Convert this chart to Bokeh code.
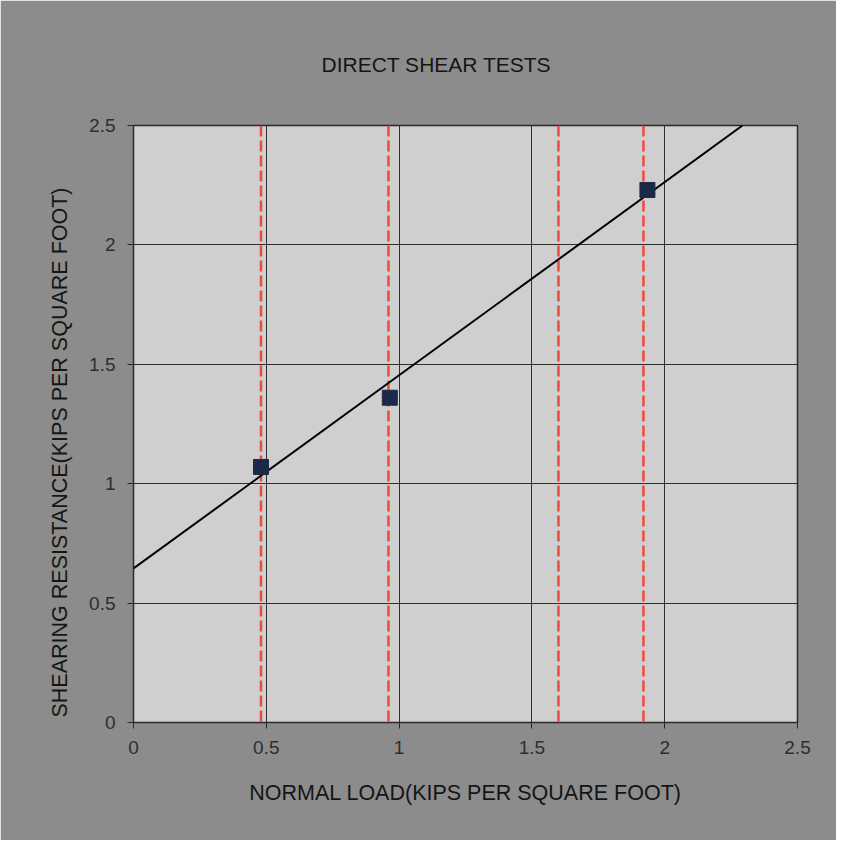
from bokeh.plotting import figure
from bokeh.models import Span, Range1d, FixedTicker, Title
from bokeh.embed import file_html
from bokeh.resources import INLINE

# Data
test_x = [0.48, 0.965, 1.935]
test_y = [1.07, 1.36, 2.23]
fit_x = [0.0, 2.293]
fit_y = [0.645, 2.5]
ref_lines = [0.48, 0.96, 1.60, 1.92]
ticks = [0, 0.5, 1, 1.5, 2, 2.5]

FONT = "Liberation Sans"

p = figure(width=836, height=840, output_backend="svg", toolbar_location=None,
           x_range=Range1d(0, 2.5), y_range=Range1d(0, 2.5),
           min_border_left=133, min_border_right=39, min_border_top=125, min_border_bottom=118)

p.background_fill_color = "#cfcfcf"
p.border_fill_color = "#8c8c8c"
p.outline_line_color = "#2a2a2a"
p.outline_line_width = 1.5

p.title.text = "DIRECT SHEAR TESTS"
p.title.text_font = FONT
p.title.text_font_size = "21px"
p.title.text_font_style = "normal"
p.title.text_color = "#151515"
p.title.align = "left"
p.title.offset = 188
p.title.standoff = 99

for ax in (p.xaxis, p.yaxis):
    ax.ticker = FixedTicker(ticks=ticks)
    ax.major_label_text_font = FONT
    ax.major_label_text_font_size = "19px"
    ax.major_label_text_color = "#2e2e2e"
    ax.axis_label_text_font = FONT
    ax.axis_label_text_font_size = "21.5px"
    ax.axis_label_text_font_style = "normal"
    ax.axis_label_text_color = "#151515"
    ax.axis_line_color = "#2a2a2a"
    ax.major_tick_line_color = "#2a2a2a"
    ax.major_tick_out = 6
    ax.major_tick_in = 0
    ax.minor_tick_line_color = None

p.xaxis.axis_label = "NORMAL LOAD(KIPS PER SQUARE FOOT)"
p.xaxis.major_label_standoff = 12
p.yaxis.major_label_standoff = 12
p.xaxis.axis_label_standoff = 24

ylab = Title(text="SHEARING RESISTANCE(KIPS PER SQUARE FOOT)", align="left",
             offset=5, standoff=30, text_font=FONT, text_font_size="21.5px",
             text_font_style="normal", text_color="#151515")
p.add_layout(ylab, "left")

p.xgrid.grid_line_color = "#303030"
p.ygrid.grid_line_color = "#303030"
p.xgrid.grid_line_width = 1
p.ygrid.grid_line_width = 1

for xv in ref_lines:
    p.add_layout(Span(location=xv, dimension="height", line_color="#f04a3c",
                      line_width=2.5, line_dash="11 4", level="underlay"))

p.line(fit_x, fit_y, line_color="black", line_width=2)
p.scatter(test_x, test_y, marker="square", size=15, fill_color="#1c2a48",
          line_color="#1c2a48")

open("out.html", "w").write(file_html(p, INLINE))
